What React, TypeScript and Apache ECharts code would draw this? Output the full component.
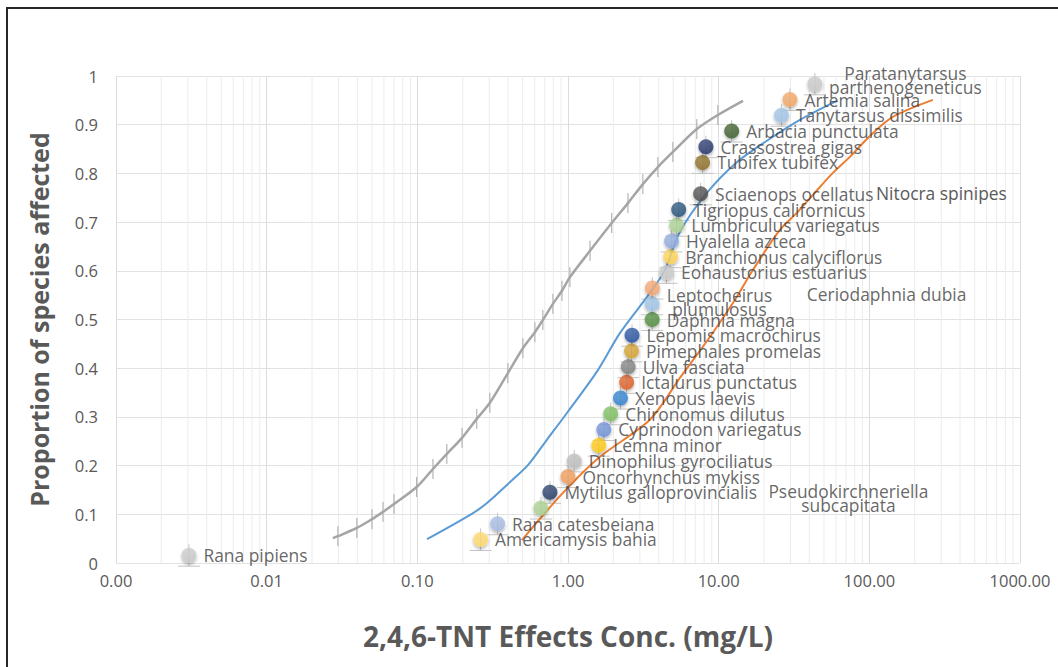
import React, { useEffect, useRef } from "react";
import * as echarts from "echarts";

// ---------- DATA ----------
const species = [
  "Rana pipiens",
  "Americamysis bahia",
  "Rana catesbeiana",
  "Pseudokirchneriella\nsubcapitata",
  "Mytilus galloprovincialis",
  "Oncorhynchus mykiss",
  "Dinophilus gyrociliatus",
  "Lemna minor",
  "Cyprinodon variegatus",
  "Chironomus dilutus",
  "Xenopus laevis",
  "Ictalurus punctatus",
  "Ulva fasciata",
  "Pimephales promelas",
  "Lepomis macrochirus",
  "Daphnia magna",
  "Leptocheirus\nplumulosus",
  "Ceriodaphnia dubia",
  "Eohaustorius estuarius",
  "Branchionus calyciflorus",
  "Hyalella azteca",
  "Lumbriculus variegatus",
  "Tigriopus californicus",
  "Sciaenops ocellatus",
  "Tubifex tubifex",
  "Crassostrea gigas",
  "Arbacia punctulata",
  "Tanytarsus dissimilis",
  "Artemia salina",
  "Paratanytarsus\nparthenogeneticus",
];
const effectConc = [
  0.00305, 0.263, 0.341, 0.661, 0.759, 1.0, 1.1, 1.6, 1.73, 1.92, 2.23, 2.45,
  2.51, 2.64, 2.66, 3.62, 3.61, 3.63, 4.51, 4.8, 4.87, 5.26, 5.43, 7.59, 7.82,
  8.23, 12.2, 26.1, 29.7, 43.5,
];
const proportion = [
  0.0161, 0.0484, 0.0806, 0.1129, 0.1452, 0.1774, 0.2097, 0.2419, 0.2742,
  0.3065, 0.3387, 0.371, 0.4032, 0.4355, 0.4677, 0.5, 0.5323, 0.5645, 0.5968,
  0.629, 0.6613, 0.6935, 0.7258, 0.7581, 0.8226, 0.8548, 0.8871, 0.9194,
  0.9516, 0.9839,
];
const pointColors = [
  "#c9c9c9", "#ffd966", "#a4b9e3", "#a9d18e", "#203864", "#f29a55", "#bcbcbc",
  "#ffc80a", "#6b8fd8", "#79bd58", "#2a7fd0", "#dd5a20", "#7f7f7f", "#d4a02a",
  "#1f4e9f", "#4a8a38", "#9dc3e6", "#f4a46c", "#c9c9c9", "#ffd44f", "#8faadc",
  "#a9d18e", "#1f4e79", "#4a4a4a", "#8a6a1e", "#1f3068", "#375a25", "#9dc3e6",
  "#f4a460", "#c9c9c9",
];
const extraLabel = "Nitocra spinipes";

// fitted curves [conc, proportion]
const grayCurve: [number, number][] = [
  [0.0275, 0.051], [0.0297, 0.055], [0.0397, 0.072], [0.05, 0.09],
  [0.0592, 0.105], [0.07, 0.121], [0.099, 0.156], [0.127, 0.193],
  [0.157, 0.224], [0.198, 0.257], [0.248, 0.296], [0.303, 0.329],
  [0.399, 0.39], [0.502, 0.441], [0.603, 0.474], [0.681, 0.499],
  [0.794, 0.532], [0.912, 0.559], [1.03, 0.587], [1.4, 0.641], [1.95, 0.698],
  [2.5, 0.739], [3.14, 0.778], [3.95, 0.813], [4.97, 0.844], [7.16, 0.891],
  [9.88, 0.92], [14.5, 0.949],
];
const blueCurve: [number, number][] = [
  [0.116, 0.049], [0.23, 0.101], [0.29, 0.123], [0.425, 0.17], [0.542, 0.201],
  [0.724, 0.253], [0.984, 0.308], [1.58, 0.396], [2.21, 0.472], [3.49, 0.554],
  [4.4, 0.602], [5.53, 0.68], [8.35, 0.76], [13.2, 0.823], [20.9, 0.867],
  [34.6, 0.91], [60.8, 0.949],
];
const orangeCurve: [number, number][] = [
  [0.494, 0.047], [0.925, 0.144], [1.63, 0.218], [3.49, 0.294], [5.53, 0.38],
  [8.74, 0.464], [12.8, 0.54], [16.9, 0.602], [25.5, 0.684], [33.0, 0.719],
  [42.2, 0.756], [57.3, 0.801], [74.3, 0.834], [101, 0.877], [143, 0.916],
  [264, 0.951],
];

const xTickDecimals = 2;
const yMin = 0, yMax = 1, yStep = 0.1;
const xMin = 0.001, xMax = 1000;

const FONT = "'Open Sans', 'Noto Sans', sans-serif";
const LABEL_COLOR = "#404040";
const LABEL_SIZE = 17.4;

// label placement overrides (style only)
const labelOverrides: Record<number, any> = {
  3: { position: [315, -3], align: "center", verticalAlign: "middle", lineHeight: 14 },
  16: { position: [75, 6], align: "center", verticalAlign: "middle", lineHeight: 14 },
  17: { position: [162, 13], align: "left", verticalAlign: "middle" },
  29: { position: [98, 4], align: "center", verticalAlign: "middle", lineHeight: 14 },
};

export default function App() {
  const ref = useRef<HTMLDivElement>(null);
  useEffect(() => {
    if (!ref.current) return;
    const chart = echarts.init(ref.current, null, { renderer: "svg" });

    const minorGrid: number[][] = [];
    for (let d = -3; d < 3; d++) {
      for (let k = 2; k <= 9; k++) minorGrid.push([k * Math.pow(10, d), 0]);
    }

    const scatterData = species.map((name, i) => ({
      name,
      value: [effectConc[i], proportion[i]],
      itemStyle: {
        color: new echarts.graphic.RadialGradient(0.4, 0.35, 0.7, [
          { offset: 0, color: echarts.color.lift(pointColors[i], 0.15) },
          { offset: 1, color: pointColors[i] },
        ]),
      },
      label: labelOverrides[i] ? { ...labelOverrides[i] } : undefined,
    }));

    const tickSeries = (data: [number, number][], half: number, color: string, cross: boolean) => ({
      type: "custom",
      silent: true,
      z: 1,
      data,
      renderItem: (_p: any, api: any) => {
        const c = api.coord([api.value(0), api.value(1)]);
        const children: any[] = [
          {
            type: "line",
            shape: { x1: c[0], y1: c[1] - half, x2: c[0], y2: c[1] + half },
            style: { stroke: color, lineWidth: 1 },
          },
        ];
        if (cross) {
          children.push({
            type: "line",
            shape: { x1: c[0] - half, y1: c[1] + half, x2: c[0] + half, y2: c[1] + half },
            style: { stroke: color, lineWidth: 1 },
          });
        }
        return { type: "group", children };
      },
    });

    const option: any = {
      animation: false,
      backgroundColor: "#ffffff",
      textStyle: { fontFamily: FONT },
      grid: { left: 116, top: 76, right: 38, bottom: 104 },
      xAxis: {
        type: "log",
        logBase: 10,
        min: xMin,
        max: xMax,
        name: "2,4,6-TNT Effects Conc. (mg/L)",
        nameLocation: "middle",
        nameGap: 59,
        nameTextStyle: { fontSize: 28, fontWeight: "bold", color: "#595959", fontFamily: FONT },
        axisLine: { show: false },
        axisTick: { show: false },
        axisLabel: {
          fontSize: 16.5,
          color: "#595959",
          margin: 9,
          fontFamily: FONT,
          formatter: (v: number) => v.toFixed(xTickDecimals),
        },
        splitLine: { show: true, lineStyle: { color: "#dcdcdc", width: 1 } },
      },
      yAxis: {
        type: "value",
        min: yMin,
        max: yMax,
        interval: yStep,
        name: "Proportion of species affected",
        nameLocation: "middle",
        nameGap: 65,
        nameRotate: 90,
        nameTextStyle: { fontSize: 25, fontWeight: "bold", color: "#595959", fontFamily: FONT },
        axisLine: { show: false },
        axisTick: { show: false },
        axisLabel: {
          fontSize: 16.5,
          color: "#595959",
          margin: 18,
          fontFamily: FONT,
          formatter: (v: number) => String(Math.round(v * 10) / 10),
        },
        splitLine: { show: true, lineStyle: { color: "#e2e2e2", width: 1 } },
      },
      graphic: [
        {
          type: "rect",
          shape: { x: 7, y: 8, width: 1200, height: 800 },
          style: { fill: "none", stroke: "#262626", lineWidth: 2 },
          silent: true,
          z: 100,
        },
        {
          type: "text",
          x: 876,
          y: 193,
          style: {
            text: extraLabel,
            fill: "#5a5a5a",
            fontSize: LABEL_SIZE,
            fontFamily: FONT,
            fontWeight: "normal",
            verticalAlign: "middle",
            align: "left",
          },
          z: 100,
        },
      ],
      series: [
        {
          type: "custom",
          silent: true,
          z: 0,
          data: minorGrid,
          renderItem: (_p: any, api: any) => {
            const v = api.value(0);
            const a = api.coord([v, yMin]);
            const b = api.coord([v, yMax]);
            return {
              type: "line",
              shape: { x1: a[0], y1: a[1], x2: b[0], y2: b[1] },
              style: { stroke: "#ececec", lineWidth: 1 },
            };
          },
        },
        tickSeries(grayCurve.slice(1, -1) as [number, number][], 10, "#a6a6a6", false),
        tickSeries(
          effectConc.map((x, i) => [x, proportion[i]]) as [number, number][],
          11,
          "#c4c4c4",
          true
        ),
        {
          type: "line",
          data: grayCurve,
          showSymbol: false,
          smooth: 0.3,
          z: 2,
          lineStyle: { color: "#a5a5a5", width: 2.5 },
          silent: true,
        },
        {
          type: "line",
          data: blueCurve,
          showSymbol: false,
          smooth: 0.3,
          z: 2,
          lineStyle: { color: "#5b9bd5", width: 2 },
          silent: true,
        },
        {
          type: "line",
          data: orangeCurve,
          showSymbol: false,
          smooth: 0.3,
          z: 2,
          lineStyle: { color: "#ed7d31", width: 2 },
          silent: true,
        },
        {
          type: "scatter",
          z: 5,
          symbol: "circle",
          symbolSize: 15,
          data: scatterData,
          itemStyle: {
            shadowBlur: 3,
            shadowOffsetY: 2,
            shadowColor: "rgba(0,0,0,0.35)",
          },
          label: {
            show: true,
            position: "right",
            distance: 7,
            formatter: (p: any) => p.name,
            color: LABEL_COLOR,
            fontSize: LABEL_SIZE,
            fontFamily: FONT,
            lineHeight: 18,
          },
          labelLayout: { hideOverlap: false },
        },
      ],
    };
    chart.setOption(option);
    return () => chart.dispose();
  }, []);

  return (
    <div style={{ position: "fixed", left: 0, top: 0, width: 1058, height: 667, overflow: "hidden", background: "#fff" }}>
      <div ref={ref} style={{ width: 1058, height: 667 }} />
    </div>
  );
}
